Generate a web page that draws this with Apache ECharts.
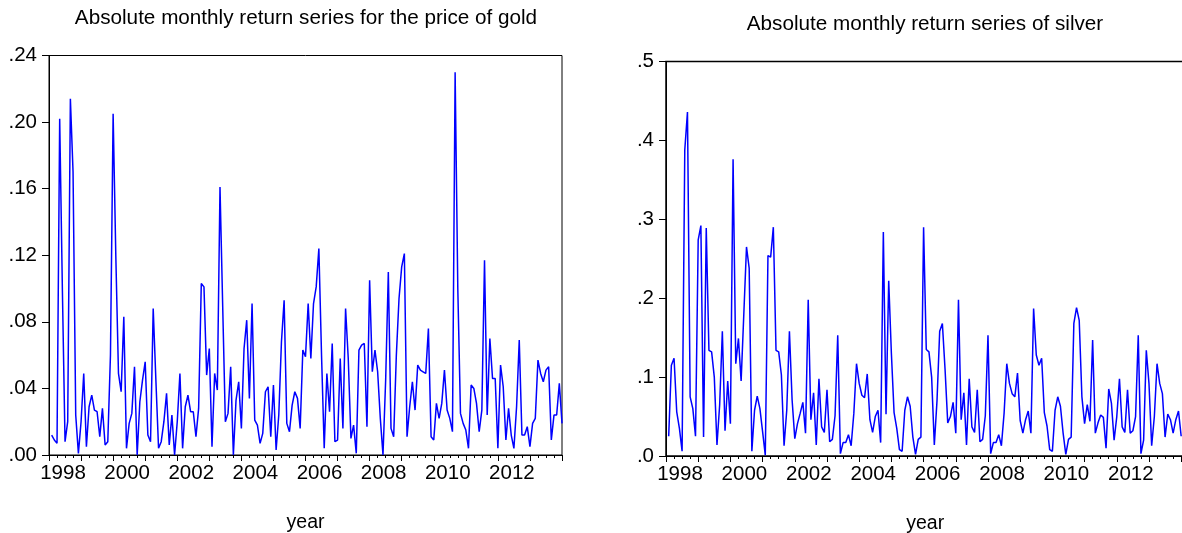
<!DOCTYPE html>
<html>
<head>
<meta charset="utf-8">
<title>Absolute monthly return series</title>
<script src="https://cdn.jsdelivr.net/npm/echarts@6/dist/echarts.min.js"></script>
<style>
body { margin: 0; background: #fff; }
#main { width: 1182px; height: 533px; }
</style>
</head>
<body>
<div id="main"></div>
<script>
// monthly data, first value is 1998M02
var startYear = 1998;
var goldTitle = "Absolute monthly return series for the price of gold";
var silverTitle = "Absolute monthly return series of silver";
var axisName = "year";
var yearLabels = [1998, 2000, 2002, 2004, 2006, 2008, 2010, 2012];

var gold = [
	0.012, 0.009, 0.007, 0.202, 0.100, 0.008, 0.020, 0.214, 0.170, 0.024, 0.001, 0.020,
	0.049, 0.005, 0.029, 0.036, 0.027, 0.026, 0.011, 0.028, 0.006, 0.008, 0.060, 0.205,
	0.120, 0.049, 0.038, 0.083, 0.004, 0.019, 0.025, 0.053, 0.000, 0.032, 0.045, 0.056,
	0.012, 0.008, 0.088, 0.045, 0.004, 0.008, 0.020, 0.037, 0.006, 0.024, 0.000, 0.020,
	0.049, 0.004, 0.029, 0.036, 0.026, 0.026, 0.011, 0.028, 0.103, 0.101, 0.048, 0.064,
	0.005, 0.049, 0.039, 0.161, 0.090, 0.020, 0.025, 0.053, 0.000, 0.033, 0.044, 0.016,
	0.064, 0.081, 0.034, 0.091, 0.021, 0.018, 0.007, 0.013, 0.038, 0.041, 0.011, 0.042,
	0.003, 0.024, 0.068, 0.093, 0.019, 0.014, 0.030, 0.038, 0.034, 0.016, 0.063, 0.059,
	0.091, 0.058, 0.091, 0.101, 0.124, 0.060, 0.004, 0.049, 0.026, 0.067, 0.008, 0.009,
	0.058, 0.016, 0.088, 0.058, 0.010, 0.018, 0.001, 0.063, 0.066, 0.067, 0.017, 0.105,
	0.050, 0.063, 0.050, 0.022, 0.000, 0.045, 0.110, 0.016, 0.011, 0.060, 0.094, 0.113,
	0.121, 0.011, 0.029, 0.044, 0.027, 0.054, 0.051, 0.050, 0.049, 0.076, 0.011, 0.009,
	0.031, 0.022, 0.031, 0.051, 0.027, 0.022, 0.014, 0.230, 0.100, 0.025, 0.019, 0.015,
	0.004, 0.042, 0.040, 0.031, 0.014, 0.027, 0.117, 0.024, 0.070, 0.046, 0.046, 0.004,
	0.054, 0.041, 0.009, 0.028, 0.012, 0.004, 0.029, 0.069, 0.012, 0.012, 0.017, 0.005,
	0.019, 0.022, 0.057, 0.049, 0.044, 0.051, 0.053, 0.009, 0.024, 0.024, 0.043, 0.019
];

var silver = [
	0.025, 0.115, 0.124, 0.056, 0.035, 0.006, 0.388, 0.436, 0.075, 0.060, 0.025, 0.274,
	0.292, 0.024, 0.289, 0.134, 0.132, 0.100, 0.014, 0.065, 0.158, 0.032, 0.095, 0.041,
	0.376, 0.117, 0.149, 0.095, 0.180, 0.265, 0.238, 0.006, 0.058, 0.076, 0.060, 0.031,
	0.001, 0.254, 0.252, 0.290, 0.134, 0.132, 0.103, 0.013, 0.058, 0.158, 0.071, 0.022,
	0.041, 0.054, 0.068, 0.029, 0.198, 0.046, 0.080, 0.014, 0.098, 0.037, 0.030, 0.084,
	0.018, 0.021, 0.051, 0.153, 0.003, 0.017, 0.017, 0.027, 0.013, 0.054, 0.117, 0.092,
	0.077, 0.074, 0.104, 0.046, 0.030, 0.050, 0.058, 0.017, 0.284, 0.053, 0.222, 0.130,
	0.055, 0.035, 0.008, 0.006, 0.058, 0.075, 0.063, 0.024, 0.002, 0.021, 0.024, 0.290,
	0.135, 0.132, 0.100, 0.014, 0.070, 0.158, 0.168, 0.110, 0.042, 0.050, 0.068, 0.029,
	0.198, 0.046, 0.080, 0.014, 0.098, 0.037, 0.030, 0.084, 0.018, 0.021, 0.051, 0.153,
	0.003, 0.017, 0.017, 0.027, 0.013, 0.054, 0.117, 0.092, 0.079, 0.075, 0.105, 0.045,
	0.029, 0.046, 0.057, 0.029, 0.187, 0.128, 0.115, 0.124, 0.055, 0.038, 0.008, 0.006,
	0.058, 0.075, 0.063, 0.029, 0.002, 0.021, 0.024, 0.168, 0.188, 0.172, 0.075, 0.041,
	0.065, 0.044, 0.147, 0.029, 0.042, 0.052, 0.049, 0.010, 0.085, 0.067, 0.020, 0.050,
	0.098, 0.037, 0.030, 0.084, 0.029, 0.032, 0.050, 0.153, 0.003, 0.020, 0.134, 0.092,
	0.013, 0.050, 0.117, 0.092, 0.079, 0.024, 0.053, 0.046, 0.029, 0.046, 0.057, 0.025
];

var fontName = "'Liberation Sans', Arial, sans-serif";

// month i of the list sits at startYear + (i + 1) / 12
function toPoints(values) {
	var pts = [];
	for (var i = 0; i < values.length; i++) {
		pts.push([ startYear + (i + 1) / 12, values[i] ]);
	}
	return pts;
}

function yearFormatter(value) {
	var y = Math.round(value);
	if (Math.abs(value - y) < 1e-6 && yearLabels.indexOf(y) >= 0) {
		return String(y);
	}
	return "";
}

function dotFormatter(digits) {
	return function(value) {
		return value.toFixed(digits).replace(/^0/, "");
	};
}

function makeXAxis(idx, max) {
	return {
		type : 'value',
		gridIndex : idx,
		min : startYear,
		max : max,
		interval : 1,
		name : axisName,
		nameLocation : 'middle',
		nameGap : 58,
		nameTextStyle : {
			color : '#000',
			fontSize : 19.5,
			fontFamily : fontName
		},
		axisLine : {
			show : true,
			onZero : false,
			lineStyle : { color : '#000', width : 1 }
		},
		axisTick : {
			show : true,
			length : 6,
			lineStyle : { color : '#000', width : 1 }
		},
		minorTick : {
			show : true,
			splitNumber : 4,
			length : 3,
			lineStyle : { color : '#000', width : 1 }
		},
		splitLine : { show : false },
		axisLabel : {
			color : '#000',
			fontSize : 20.5,
			fontFamily : fontName,
			margin : 8,
			padding : [ 0, 0, 0, 28 ],
			formatter : yearFormatter
		}
	};
}

function makeYAxis(idx, max, step, digits) {
	return {
		type : 'value',
		gridIndex : idx,
		min : 0,
		max : max,
		interval : step,
		axisLine : {
			show : true,
			lineStyle : { color : '#000', width : 1 }
		},
		axisTick : {
			show : true,
			length : 7,
			lineStyle : { color : '#000', width : 1 }
		},
		splitLine : { show : false },
		axisLabel : {
			color : '#000',
			fontSize : 20.5,
			fontFamily : fontName,
			margin : 12,
			formatter : dotFormatter(digits)
		}
	};
}

function makeTitle(text, x, y) {
	return {
		type : 'text',
		x : x,
		y : y,
		style : {
			text : text,
			fill : '#000',
			font : '20.7px ' + fontName,
			textAlign : 'center',
			textVerticalAlign : 'bottom'
		}
	};
}

var myChart = echarts.init(document.getElementById('main'), null, { renderer : 'canvas' });

var option = {
	animation : false,
	backgroundColor : '#fff',
	graphic : [ makeTitle(goldTitle, 306, 29), makeTitle(silverTitle, 925, 35) ],
	grid : [ {
		left : 49,
		top : 55.5,
		width : 513,
		height : 399.5,
		outerBoundsMode : 'none',
		containLabel : false,
		show : true,
		borderColor : '#000',
		borderWidth : 1
	}, {
		left : 666,
		top : 61.5,
		width : 518.4,
		height : 394.5,
		outerBoundsMode : 'none',
		containLabel : false,
		show : true,
		borderColor : '#000',
		borderWidth : 1.5
	} ],
	xAxis : [ makeXAxis(0, 2014), makeXAxis(1, 2014.1) ],
	yAxis : [ makeYAxis(0, 0.24, 0.04, 2), makeYAxis(1, 0.5, 0.1, 1) ],
	series : [ {
		name : 'gold',
		type : 'line',
		xAxisIndex : 0,
		yAxisIndex : 0,
		showSymbol : false,
		lineStyle : { color : '#0000ff', width : 1.5 },
		data : toPoints(gold)
	}, {
		name : 'silver',
		type : 'line',
		xAxisIndex : 1,
		yAxisIndex : 1,
		showSymbol : false,
		lineStyle : { color : '#0000ff', width : 1.5 },
		data : toPoints(silver)
	} ]
};
myChart.setOption(option);
</script>
</body>
</html>
